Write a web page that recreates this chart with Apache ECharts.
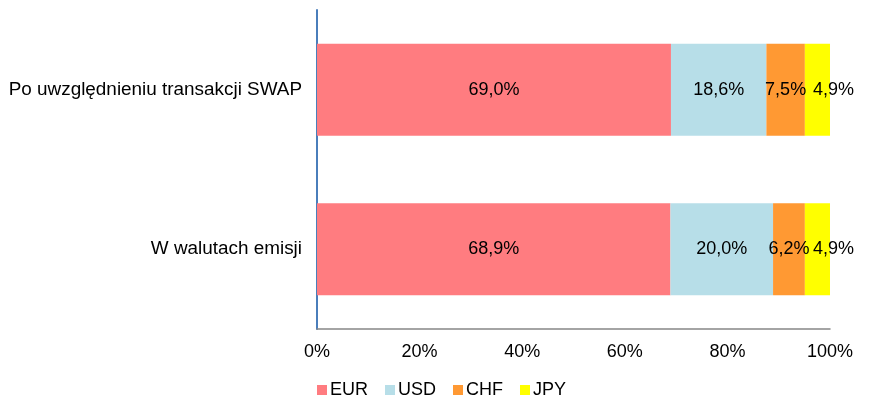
<!DOCTYPE html>
<html>
<head>
<meta charset="utf-8">
<script src="https://cdn.jsdelivr.net/npm/echarts@6/dist/echarts.min.js"></script>
<style>
  html, body { margin: 0; padding: 0; background: #fff; }
  #chart { width: 870px; height: 401px; }
</style>
</head>
<body>
<div id="chart"></div>
<script>
// kategorie od dołu do góry
var categories = ['W walutach emisji', 'Po uwzględnieniu transakcji SWAP'];
var eur = [68.9, 69.0];
var usd = [20.0, 18.6];
var chf = [6.2, 7.5];
var jpy = [4.9, 4.9];
var xTicks = [0, 20, 40, 60, 80, 100];

var font = 'Liberation Sans, Arial, sans-serif';

function fmt(v) {
    return v.toFixed(1).replace('.', ',') + '%';
}

function serie(name, data, color, offset) {
    return {
        name: name,
        type: 'bar',
        stack: 'total',
        barWidth: 92,
        data: data,
        itemStyle: { color: color },
        label: {
            show: true,
            position: 'inside',
            offset: offset || [0, 0],
            color: '#000',
            fontSize: 18,
            fontFamily: font,
            formatter: function (p) { return fmt(p.value); }
        }
    };
}

option = {
    animation: false,
    textStyle: { fontFamily: font },
    grid: {
        left: 317,
        right: 40,
        top: 10,
        bottom: 72
    },
    legend: {
        left: 312,
        top: 376,
        itemWidth: 10,
        itemHeight: 10,
        itemGap: 17,
        icon: 'rect',
        textStyle: { color: '#000', fontSize: 18, fontFamily: font, padding: [0, 0, 0, -2] },
        data: ['EUR', 'USD', 'CHF', 'JPY']
    },
    xAxis: {
        type: 'value',
        min: 0,
        max: 100,
        interval: 20,
        splitLine: { show: false },
        axisTick: { show: false },
        axisLine: { show: true, lineStyle: { color: '#868686', width: 1.5 } },
        axisLabel: {
            color: '#000',
            fontSize: 18,
            fontFamily: font,
            margin: 14,
            formatter: function (v) { return xTicks.indexOf(v) >= 0 ? v + '%' : ''; }
        }
    },
    yAxis: {
        type: 'category',
        data: categories,
        axisTick: { show: false },
        axisLine: { show: true, lineStyle: { color: '#4A7EBB', width: 2 } },
        axisLabel: {
            color: '#000',
            fontSize: 18.9,
            fontFamily: font,
            margin: 15
        }
    },
    series: [
        serie('EUR', eur, '#FF7C80'),
        serie('USD', usd, '#B7DEE8'),
        serie('CHF', chf, '#FF9933'),
        serie('JPY', jpy, '#FFFF00', [16, 0])
    ]
};

var myecharts = echarts.init(document.getElementById('chart'));
myecharts.setOption(option);
</script>
</body>
</html>
